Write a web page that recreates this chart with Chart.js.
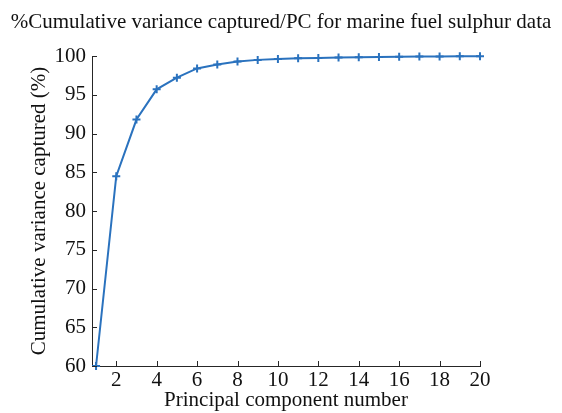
<!DOCTYPE html>
<html><head><meta charset="utf-8">
<script src="https://cdn.jsdelivr.net/npm/chart.js@4/dist/chart.umd.min.js"></script>
<style>html,body{margin:0;padding:0;background:#fff}#wrap{width:562px;height:413px}</style>
</head><body><div id="wrap"><canvas id="c" width="562" height="413"></canvas></div>
<script>
const components = [1,2,3,4,5,6,7,8,9,10,11,12,13,14,15,16,17,18,19,20];
const cumulativeVariance = [60.0,84.5,91.8,95.7,97.2,98.4,98.9,99.3,99.5,99.6,99.7,99.75,99.8,99.85,99.88,99.9,99.92,99.94,99.96,99.98];
const xTicks = [2,4,6,8,10,12,14,16,18,20];
const yTicks = [60,65,70,75,80,85,90,95,100];
const chartTitle = '%Cumulative variance captured/PC for marine fuel sulphur data';

const FONT = "'Liberation Serif','Times New Roman',serif";
const AXIS = '#262626';
const insideTicks = {
  id:'insideTicks',
  afterDatasetsDraw(chart){
    const ctx=chart.ctx, x=chart.scales.x, y=chart.scales.y;
    ctx.save(); ctx.strokeStyle=AXIS; ctx.lineWidth=1; ctx.beginPath();
    x.ticks.forEach(t=>{const px=Math.round(x.getPixelForValue(t.value))+0.5; ctx.moveTo(px,y.bottom); ctx.lineTo(px,y.bottom-5);});
    y.ticks.forEach(t=>{const py=Math.round(y.getPixelForValue(t.value))+0.5; ctx.moveTo(x.left,py); ctx.lineTo(x.left+5,py);});
    ctx.stroke();
    ctx.fillStyle='#111'; ctx.font="21px "+FONT; ctx.textAlign='center'; ctx.textBaseline='middle';
    ctx.fillText(chartTitle, chart.width/2, 22);
    ctx.restore();
  }
};
new Chart(document.getElementById('c'),{
  type:'line',
  data:{datasets:[{
    data:components.map((c,i)=>({x:c,y:cumulativeVariance[i]})),
    borderColor:'#2a72be',backgroundColor:'#2a72be',borderWidth:2,
    pointStyle:'cross',pointRadius:4,pointBorderWidth:2,tension:0,clip:false
  }]},
  options:{
    responsive:false,animation:false,
    layout:{padding:{left:0,right:82,top:56,bottom:0}},
    plugins:{legend:{display:false},tooltip:{enabled:false},title:{display:false}},
    scales:{
      x:{type:'linear',min:0.8,max:20,
        afterBuildTicks(s){s.ticks=xTicks.map(v=>({value:v}));},
        afterFit(s){s.height=47;},
        grid:{display:true,drawOnChartArea:false,drawTicks:false},
        border:{color:AXIS,width:1},
        ticks:{color:'#111',font:{family:FONT,size:21},padding:2,maxRotation:0,autoSkip:false},
        title:{display:true,text:'Principal component number',color:'#111',font:{family:FONT,size:21},padding:{top:0,bottom:0}}},
      y:{type:'linear',min:60,max:100,
        afterBuildTicks(s){s.ticks=yTicks.map(v=>({value:v}));},
        afterFit(s){s.width=92;},
        grid:{display:true,drawOnChartArea:false,drawTicks:false},
        border:{color:AXIS,width:1},
        ticks:{color:'#111',font:{family:FONT,size:21},padding:6,autoSkip:false},
        title:{display:true,text:'Cumulative variance captured (%)',color:'#111',font:{family:FONT,size:21},padding:{top:27,bottom:0}}}
    }
  },
  plugins:[insideTicks]
});
</script></body></html>
